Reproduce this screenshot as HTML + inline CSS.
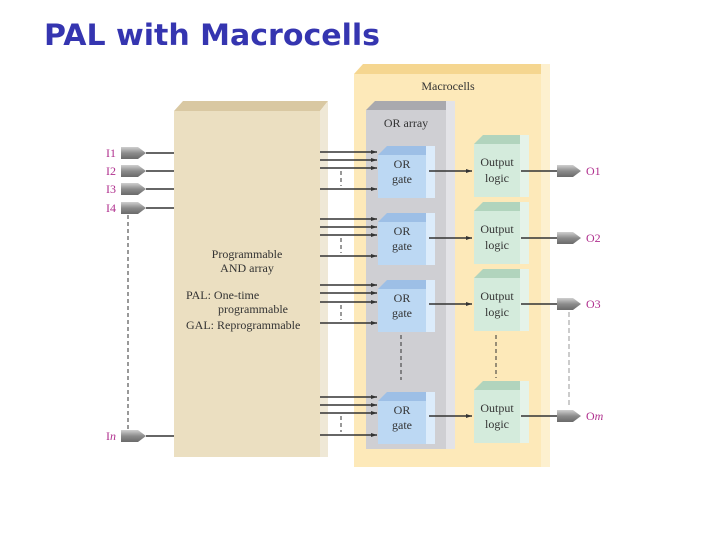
<!DOCTYPE html>
<html><head><style>body{margin:0;background:#fff}svg{display:block}</style></head><body>
<svg width="720" height="540" xmlns="http://www.w3.org/2000/svg" font-family="Liberation Serif, serif">
<defs>
<linearGradient id="buf" x1="0" y1="0" x2="0" y2="1"><stop offset="0" stop-color="#d0d0d0"/><stop offset="0.5" stop-color="#8c8c8c"/><stop offset="1" stop-color="#6a6a6a"/></linearGradient>
<marker id="ar" markerWidth="7" markerHeight="5" refX="6" refY="2.5" orient="auto" markerUnits="userSpaceOnUse"><path d="M0,0.5 L6,2.5 L0,4.5z" fill="#333"/></marker>
</defs>
<text x="44" y="45" font-family="DejaVu Sans, sans-serif" font-weight="bold" font-size="29" fill="#3535b0" textLength="336" lengthAdjust="spacingAndGlyphs">PAL with Macrocells</text>

<polygon points="174,111 183,101 328,101 320,111" fill="#d9c8a2"/>
<rect x="320" y="111" width="8" height="346" fill="#efe8d6"/>
<polygon points="320,111 328,101 328,111" fill="#efe8d6"/>
<rect x="174" y="111" width="146" height="346" fill="#ebdfc1"/>
<g font-size="12" fill="#333">
<text x="247" y="258" text-anchor="middle">Programmable</text>
<text x="247" y="272" text-anchor="middle">AND array</text>
<text x="186" y="299">PAL: One-time</text>
<text x="218" y="313">programmable</text>
<text x="186" y="329">GAL: Reprogrammable</text>
</g>

<polygon points="354,74 363,64 550,64 541,74" fill="#f5d690"/>
<rect x="541" y="64" width="9" height="403" fill="#fdf0cf"/>
<rect x="354" y="74" width="187" height="393" fill="#fde9b9"/>
<text x="448" y="90" text-anchor="middle" font-size="12" fill="#333">Macrocells</text>

<polygon points="366,110 375,101 455,101 446,110" fill="#a9a9ae"/>
<rect x="446" y="101" width="9" height="348" fill="#e3e3e7"/>
<rect x="366" y="110" width="80" height="339" fill="#cfcfd3"/>
<text x="406" y="127" text-anchor="middle" font-size="12" fill="#333">OR array</text>

<g font-size="12" fill="#333" text-anchor="middle">
<polygon points="378,155 387,146 435,146 426,155" fill="#9dbfe6"/><rect x="426" y="146" width="9" height="52" fill="#dcecfb"/><rect x="378" y="155" width="48" height="43" fill="#bcd8f3"/>
<text x="402" y="168">OR</text><text x="402" y="183">gate</text>
<polygon points="474,144 483,135 529,135 520,144" fill="#b1d4bd"/><rect x="520" y="135" width="9" height="62" fill="#e5f3e9"/><rect x="474" y="144" width="46" height="53" fill="#d4ebdc"/>
<text x="497" y="166">Output</text><text x="497" y="182">logic</text>
<polygon points="378,222 387,213 435,213 426,222" fill="#9dbfe6"/><rect x="426" y="213" width="9" height="52" fill="#dcecfb"/><rect x="378" y="222" width="48" height="43" fill="#bcd8f3"/>
<text x="402" y="235">OR</text><text x="402" y="250">gate</text>
<polygon points="474,211 483,202 529,202 520,211" fill="#b1d4bd"/><rect x="520" y="202" width="9" height="62" fill="#e5f3e9"/><rect x="474" y="211" width="46" height="53" fill="#d4ebdc"/>
<text x="497" y="233">Output</text><text x="497" y="249">logic</text>
<polygon points="378,289 387,280 435,280 426,289" fill="#9dbfe6"/><rect x="426" y="280" width="9" height="52" fill="#dcecfb"/><rect x="378" y="289" width="48" height="43" fill="#bcd8f3"/>
<text x="402" y="302">OR</text><text x="402" y="317">gate</text>
<polygon points="474,278 483,269 529,269 520,278" fill="#b1d4bd"/><rect x="520" y="269" width="9" height="62" fill="#e5f3e9"/><rect x="474" y="278" width="46" height="53" fill="#d4ebdc"/>
<text x="497" y="300">Output</text><text x="497" y="316">logic</text>
<polygon points="378,401 387,392 435,392 426,401" fill="#9dbfe6"/><rect x="426" y="392" width="9" height="52" fill="#dcecfb"/><rect x="378" y="401" width="48" height="43" fill="#bcd8f3"/>
<text x="402" y="414">OR</text><text x="402" y="429">gate</text>
<polygon points="474,390 483,381 529,381 520,390" fill="#b1d4bd"/><rect x="520" y="381" width="9" height="62" fill="#e5f3e9"/><rect x="474" y="390" width="46" height="53" fill="#d4ebdc"/>
<text x="497" y="412">Output</text><text x="497" y="428">logic</text>
</g>

<g stroke="#333" stroke-width="1.6" marker-end="url(#ar)">
<line x1="320" y1="152" x2="377" y2="152"/><line x1="320" y1="160" x2="377" y2="160"/><line x1="320" y1="168" x2="377" y2="168"/><line x1="320" y1="189" x2="377" y2="189"/>
<line x1="320" y1="219" x2="377" y2="219"/><line x1="320" y1="227" x2="377" y2="227"/><line x1="320" y1="235" x2="377" y2="235"/><line x1="320" y1="256" x2="377" y2="256"/>
<line x1="320" y1="285" x2="377" y2="285"/><line x1="320" y1="293" x2="377" y2="293"/><line x1="320" y1="302" x2="377" y2="302"/><line x1="320" y1="323" x2="377" y2="323"/>
<line x1="320" y1="397" x2="377" y2="397"/><line x1="320" y1="405" x2="377" y2="405"/><line x1="320" y1="413" x2="377" y2="413"/><line x1="320" y1="435" x2="377" y2="435"/>
<line x1="429" y1="171" x2="472" y2="171"/><line x1="429" y1="238" x2="472" y2="238"/><line x1="429" y1="304" x2="472" y2="304"/><line x1="429" y1="416" x2="472" y2="416"/>
</g>
<g stroke="#333" stroke-width="1" stroke-dasharray="4,3">
<line x1="341" y1="171" x2="341" y2="186"/><line x1="341" y1="238" x2="341" y2="253"/><line x1="341" y1="305" x2="341" y2="320"/><line x1="341" y1="416" x2="341" y2="432"/>
<line x1="128" y1="215" x2="128" y2="430"/>
<line x1="401" y1="335" x2="401" y2="380"/><line x1="496" y1="335" x2="496" y2="378"/>
</g>
<line x1="569" y1="312" x2="569" y2="408" stroke="#aaa" stroke-width="1.2" stroke-dasharray="5,3"/>

<g stroke="#333" stroke-width="1.6">
<line x1="146" y1="153" x2="174" y2="153"/><line x1="146" y1="171" x2="174" y2="171"/><line x1="146" y1="189" x2="174" y2="189"/><line x1="146" y1="208" x2="174" y2="208"/><line x1="146" y1="436" x2="174" y2="436"/>
<line x1="521" y1="171" x2="557" y2="171"/><line x1="521" y1="238" x2="557" y2="238"/><line x1="521" y1="304" x2="557" y2="304"/><line x1="521" y1="416" x2="557" y2="416"/>
</g>
<g fill="url(#buf)">
<path d="M121,147 h17 l8,6 l-8,6 h-17z"/><path d="M121,165 h17 l8,6 l-8,6 h-17z"/><path d="M121,183 h17 l8,6 l-8,6 h-17z"/><path d="M121,202 h17 l8,6 l-8,6 h-17z"/><path d="M121,430 h17 l8,6 l-8,6 h-17z"/>
<path d="M557,165 h16 l8,6 l-8,6 h-16z"/><path d="M557,232 h16 l8,6 l-8,6 h-16z"/><path d="M557,298 h16 l8,6 l-8,6 h-16z"/><path d="M557,410 h16 l8,6 l-8,6 h-16z"/>
</g>
<g font-size="12" fill="#b0308e">
<text x="106" y="157">I1</text><text x="106" y="175">I2</text><text x="106" y="193">I3</text><text x="106" y="212">I4</text><text x="106" y="440">I<tspan font-style="italic">n</tspan></text>
<text x="586" y="175">O1</text><text x="586" y="242">O2</text><text x="586" y="308">O3</text><text x="586" y="420">O<tspan font-style="italic">m</tspan></text>
</g>
</svg>
</body></html>
